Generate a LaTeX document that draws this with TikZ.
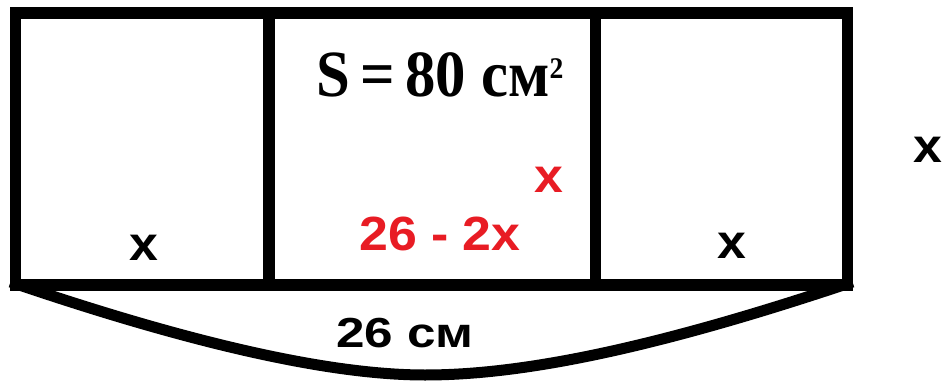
\documentclass[tikz,border=0pt]{standalone}
\usepackage{fontspec}
\setmainfont{Liberation Serif}
\setsansfont{Liberation Sans}
\definecolor{redtxt}{RGB}{232,28,36}
\tikzset{
  wall/.style={line width=11.5pt, line join=miter},
  lbl/.style={font=\sffamily\bfseries\fontsize{48}{48}\selectfont, inner sep=0pt, anchor=base, xscale=1.08},
  redlbl/.style={lbl, text=redtxt},
}
\begin{document}
\begin{tikzpicture}[x=1pt,y=-1pt]
\fill[white] (0,0) rectangle (942,385);
\useasboundingbox (0,0) rectangle (942,385);
\coordinate (tl) at (15.5,13);
\coordinate (tr) at (847.5,13);
\coordinate (bl) at (15.5,285);
\coordinate (br) at (847.5,285);
\coordinate (d1t) at (269,13);
\coordinate (d1b) at (269,285);
\coordinate (d2t) at (595.5,13);
\coordinate (d2b) at (595.5,285);
\coordinate (bot) at (425,375);
\draw[wall] (tl) rectangle (br);
\draw[wall] (d1t) -- (d1b);
\draw[wall] (d2t) -- (d2b);
\draw[line width=11pt] ([xshift=-5pt,yshift=3pt]bl) .. controls (210,350) and (340,375) .. (bot)
  .. controls (520,375) and (650,350) .. ([xshift=5pt,yshift=3pt]br);
\node[lbl] (xl) at (144,260) {x};
\node[lbl] (xr) at (732,258) {x};
\node[lbl] (xo) at (928,162) {x};
\node[redlbl] (xred) at (549,192) {x};
\node[redlbl, xscale=1.0] (w) at (440,250) {26 - 2x};
\node[inner sep=0pt, anchor=base, font=\bfseries\fontsize{66}{66}\selectfont, xscale=0.92] (s) at (440,97) {S\,=\,80 см\raisebox{0.62ex}{\fontsize{30}{30}\selectfont 2}};
\node[inner sep=0pt, anchor=base, font=\sffamily\bfseries\fontsize{42}{42}\selectfont, xscale=1.22] (len) at (405,347) {26 см};
\end{tikzpicture}
\end{document}
